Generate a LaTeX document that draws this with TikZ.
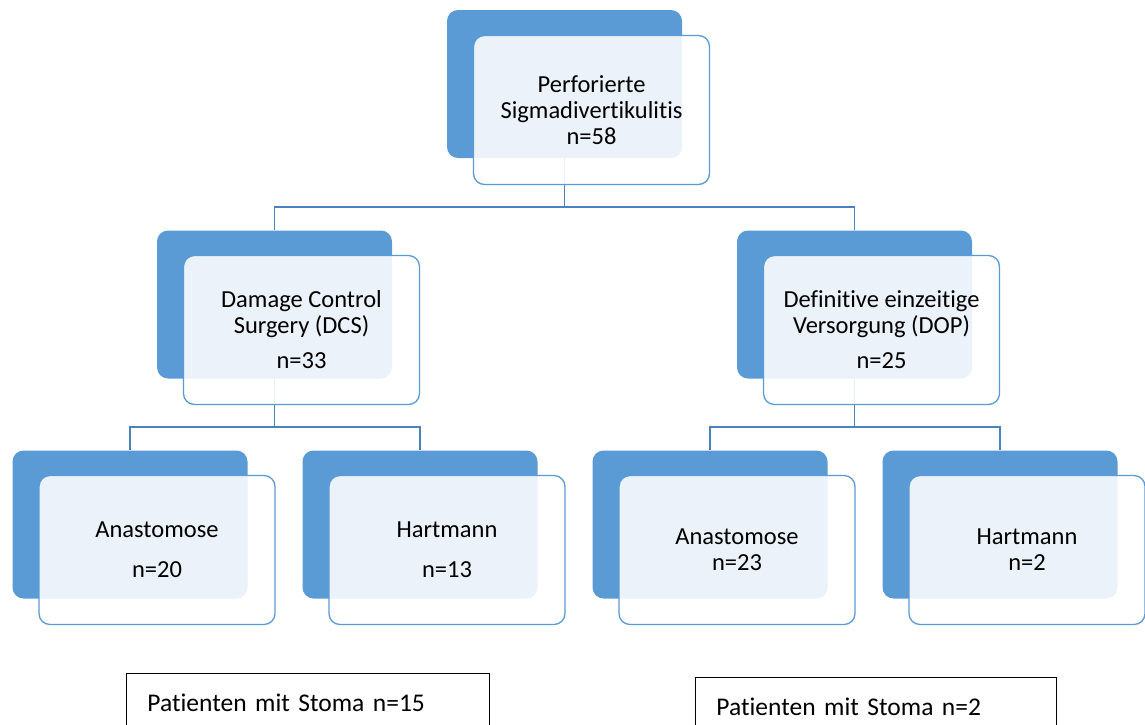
\documentclass[tikz,border=0pt]{standalone}
\usepackage{fontspec}
\setmainfont{Carlito}[Ligatures={NoCommon}]
\definecolor{backblue}{HTML}{5B9BD5}
\definecolor{linkblue}{HTML}{4A82BF}
\begin{document}
\begin{tikzpicture}[x=1pt,y=-1pt,
  backbox/.style={fill=backblue, draw=none, rounded corners=11pt, minimum width=235pt, minimum height=148pt, inner sep=0pt},
  frontbox/.style={fill=white, fill opacity=0.88, text opacity=1, draw=backblue, line width=1.3pt, rounded corners=11pt, minimum width=236pt, minimum height=149pt, inner sep=0pt, align=center, font=\fontsize{24.5}{26}\selectfont},
  link/.style={draw=linkblue, line width=1.3pt},
  stomabox/.style={draw=black, line width=0.9pt, anchor=north west, minimum height=58pt, inner xsep=21pt, inner ysep=0pt, align=left, font=\fontsize{25.5}{28}\selectfont}
]
\clip (0,0) rectangle (1145,724);
\fill[white] (0,0) rectangle (1145,724);
% back boxes
\node[backbox] (topB) at (564.5,84) {};
\node[backbox] (dcsB) at (274.5,304.5) {};
\node[backbox] (dopB) at (854.5,304.5) {};
\node[backbox] (a1B) at (130,524.5) {};
\node[backbox] (h1B) at (420,524.5) {};
\node[backbox] (a2B) at (710,524.5) {};
\node[backbox] (h2B) at (1000,524.5) {};
% connectors
\coordinate (j0) at (564.5,207);
\coordinate (j1) at (274.5,427);
\coordinate (j2) at (854.5,427);
\draw[link] (topB.south) -- (j0);
\draw[link] (j0) -| (dcsB.north);
\draw[link] (j0) -| (dopB.north);
\draw[link] (dcsB.south) -- (j1);
\draw[link] (j1) -| (a1B.north);
\draw[link] (j1) -| (h1B.north);
\draw[link] (dopB.south) -- (j2);
\draw[link] (j2) -| (a2B.north);
\draw[link] (j2) -| (h2B.north);
% front boxes
\node[frontbox] (topF) at (591.5,110) {Perforierte\\Sigmadivertikulitis\\n=58};
\node[frontbox] (dcsF) at (301.5,330) {Damage Control\\Surgery (DCS)\\[9pt]n=33};
\node[frontbox] (dopF) at (881.5,330) {Definitive einzeitige\\Versorgung (DOP)\\[9pt]n=25};
\node[frontbox] (a1F) at (157,550) {Anastomose\\[14pt]n=20};
\node[frontbox] (h1F) at (447,550) {Hartmann\\[14pt]n=13};
\node[frontbox] (a2F) at (737,550) {Anastomose\\n=23};
\node[frontbox] (h2F) at (1027,550) {Hartmann\\n=2};
% bottom boxes
\node[stomabox, minimum width=363pt, text width=321pt] (s1) at (126,673) {Patienten mit Stoma n=15};
\node[stomabox, minimum width=361pt, text width=319pt] (s2) at (695,677) {Patienten mit Stoma n=2};
\end{tikzpicture}
\end{document}
